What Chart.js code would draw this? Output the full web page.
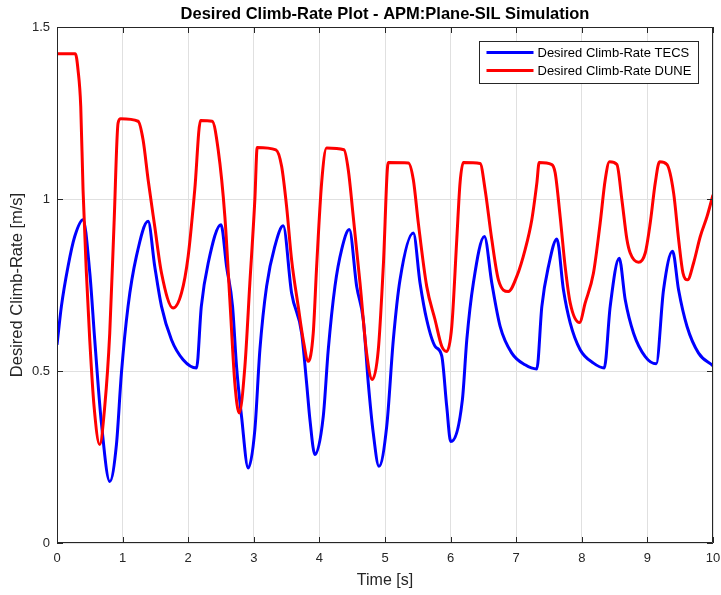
<!DOCTYPE html>
<html>
<head>
<meta charset="utf-8">
<script src="https://cdn.jsdelivr.net/npm/chart.js@4.4.1/dist/chart.umd.min.js"></script>
<style>
  html, body { margin: 0; padding: 0; background: #fff; }
  #wrap { width: 721px; height: 595px; }
</style>
</head>
<body>
<div id="wrap"><canvas id="climbChart" width="721" height="595"></canvas></div>
<script>
// values
const tecsTime = [0, 0.067, 0.168, 0.27, 0.397, 0.5, 0.575, 0.677, 0.804, 0.906,
    0.982, 1.083, 1.21, 1.389, 1.49, 1.593, 1.745, 1.923, 2.127, 2.2,
    2.305, 2.5, 2.585, 2.676, 2.737, 2.813, 2.915, 3.016, 3.093, 3.195,
    3.32, 3.448, 3.576, 3.729, 3.805, 3.856, 3.932, 4.059, 4.135, 4.237,
    4.339, 4.456, 4.568, 4.669, 4.745, 4.821, 4.908, 5.026, 5.127, 5.229,
    5.432, 5.534, 5.636, 5.763, 5.865, 5.941, 6.002, 6.18, 6.247, 6.347,
    6.515, 6.628, 6.755, 6.933, 7.136, 7.314, 7.391, 7.492, 7.62, 7.72,
    7.823, 7.975, 8.178, 8.342, 8.433, 8.57, 8.662, 8.789, 8.967, 9.135,
    9.246, 9.384, 9.475, 9.603, 9.78, 10];
const tecsRate = [0.576, 0.688, 0.804, 0.891, 0.94, 0.785, 0.591, 0.349, 0.179, 0.286,
    0.494, 0.688, 0.833, 0.935, 0.804, 0.688, 0.591, 0.533, 0.509, 0.688,
    0.814, 0.925, 0.804, 0.688, 0.513, 0.368, 0.218, 0.329, 0.562, 0.746,
    0.862, 0.922, 0.727, 0.61, 0.465, 0.358, 0.257, 0.368, 0.562, 0.746,
    0.853, 0.911, 0.746, 0.649, 0.465, 0.32, 0.223, 0.339, 0.591, 0.765,
    0.901, 0.756, 0.649, 0.572, 0.544, 0.397, 0.295, 0.417, 0.591, 0.756,
    0.891, 0.756, 0.63, 0.552, 0.518, 0.506, 0.688, 0.804, 0.884, 0.736,
    0.64, 0.562, 0.523, 0.509, 0.688, 0.828, 0.707, 0.61, 0.542, 0.521,
    0.736, 0.848, 0.736, 0.63, 0.552, 0.515];

const duneTime = [0, 0.28, 0.32, 0.362, 0.397, 0.448, 0.499, 0.565, 0.651, 0.728,
    0.804, 0.87, 0.931, 0.972, 1.236, 1.312, 1.389, 1.49, 1.593, 1.77,
    1.898, 1.999, 2.1, 2.188, 2.365, 2.457, 2.559, 2.635, 2.711, 2.777,
    2.864, 2.94, 3.016, 3.052, 3.337, 3.424, 3.5, 3.576, 3.677, 3.753,
    3.83, 3.906, 3.958, 4.034, 4.11, 4.374, 4.44, 4.516, 4.619, 4.72,
    4.806, 4.898, 4.974, 5.05, 5.356, 5.432, 5.508, 5.636, 5.763, 5.865,
    5.941, 6.018, 6.094, 6.144, 6.195, 6.45, 6.526, 6.628, 6.729, 6.881,
    7.009, 7.136, 7.238, 7.315, 7.35, 7.543, 7.594, 7.67, 7.746, 7.823,
    7.965, 8.052, 8.178, 8.28, 8.357, 8.422, 8.535, 8.611, 8.688, 8.738,
    8.865, 8.967, 9.043, 9.12, 9.185, 9.298, 9.4, 9.476, 9.542, 9.613,
    9.704, 9.806, 9.909, 10];
const duneRate = [1.422, 1.422, 1.376, 1.269, 1.027, 0.785, 0.591, 0.397, 0.286, 0.397,
    0.61, 0.93, 1.221, 1.233, 1.226, 1.172, 1.056, 0.92, 0.785, 0.683,
    0.727, 0.833, 1.027, 1.228, 1.226, 1.143, 0.949, 0.707, 0.465, 0.378,
    0.513, 0.756, 0.998, 1.15, 1.143, 1.095, 0.978, 0.824, 0.688, 0.591,
    0.528, 0.61, 0.804, 1.047, 1.148, 1.143, 1.085, 0.949, 0.756, 0.552,
    0.475, 0.562, 0.804, 1.106, 1.105, 1.056, 0.93, 0.746, 0.649, 0.572,
    0.557, 0.63, 0.882, 1.047, 1.106, 1.103, 1.027, 0.882, 0.765, 0.731,
    0.775, 0.853, 0.94, 1.047, 1.106, 1.1, 1.076, 0.949, 0.804, 0.698,
    0.641, 0.698, 0.785, 0.93, 1.056, 1.108, 1.1, 0.998, 0.882, 0.843,
    0.816, 0.843, 0.93, 1.047, 1.108, 1.1, 1.017, 0.882, 0.785, 0.765,
    0.814, 0.891, 0.949, 1.012];

const xTicks = [0, 1, 2, 3, 4, 5, 6, 7, 8, 9, 10];
const yTicks = [0, 0.5, 1, 1.5];
const seriesNames = ["Desired Climb-Rate TECS", "Desired Climb-Rate DUNE"];
const seriesColors = ["#0000ff", "#ff0000"];

const FONT = "'Liberation Sans', Arial, Helvetica, sans-serif";
const AXIS_COLOR = "#262626";

function toPoints(xs, ys) {
    return xs.map((x, i) => ({ x: x, y: ys[i] }));
}

// MATLAB-like box with inward ticks plus an inside legend
const matlabBox = {
    id: "matlabBox",
    afterDatasetsDraw(chart) {
        const ctx = chart.ctx;
        const a = chart.chartArea;
        const xs = chart.scales.x;
        const ys = chart.scales.y;
        const tl = 6;
        ctx.save();
        ctx.strokeStyle = AXIS_COLOR;
        ctx.lineWidth = 1;
        ctx.beginPath();
        ctx.rect(Math.round(a.left) + 0.5, Math.round(a.top) + 0.5,
            Math.round(a.right - a.left) - 1, Math.round(a.bottom - a.top) - 1);
        xTicks.forEach(v => {
            const px = Math.round(xs.getPixelForValue(v)) + 0.5;
            ctx.moveTo(px, a.bottom); ctx.lineTo(px, a.bottom - tl);
            ctx.moveTo(px, a.top); ctx.lineTo(px, a.top + tl);
        });
        yTicks.forEach(v => {
            const py = Math.round(ys.getPixelForValue(v)) + 0.5;
            ctx.moveTo(a.left, py); ctx.lineTo(a.left + tl, py);
            ctx.moveTo(a.right, py); ctx.lineTo(a.right - tl, py);
        });
        ctx.stroke();

        // legend box
        const bw = 219, bh = 42;
        const bx = Math.round(a.right - 15 - bw) + 0.5;
        const by = Math.round(a.top + 14) + 0.5;
        ctx.fillStyle = "#fff";
        ctx.fillRect(bx, by, bw, bh);
        ctx.strokeStyle = AXIS_COLOR;
        ctx.strokeRect(bx, by, bw, bh);
        ctx.font = "13px " + FONT;
        ctx.textBaseline = "middle";
        ctx.textAlign = "left";
        seriesNames.forEach((name, i) => {
            const ly = by + 11 + i * 18;
            ctx.strokeStyle = seriesColors[i];
            ctx.lineWidth = 3;
            ctx.beginPath();
            ctx.moveTo(bx + 7, ly);
            ctx.lineTo(bx + 54, ly);
            ctx.stroke();
            ctx.fillStyle = "#000";
            ctx.fillText(name, bx + 58, ly + 1);
        });
        ctx.restore();
    }
};

const ctx = document.getElementById("climbChart").getContext("2d");
new Chart(ctx, {
    type: "line",
    data: {
        datasets: [{
            label: seriesNames[0],
            data: toPoints(tecsTime, tecsRate),
            borderColor: seriesColors[0],
            borderWidth: 3,
            pointRadius: 0,
            cubicInterpolationMode: "monotone",
            order: 1
        }, {
            label: seriesNames[1],
            data: toPoints(duneTime, duneRate),
            borderColor: seriesColors[1],
            borderWidth: 3,
            pointRadius: 0,
            cubicInterpolationMode: "monotone",
            order: 0
        }]
    },
    options: {
        responsive: false,
        animation: false,
        layout: { padding: { left: 0, right: 8, top: 0, bottom: 0 } },
        plugins: {
            legend: { display: false },
            tooltip: { enabled: false },
            title: {
                display: true,
                fullSize: false,
                text: "Desired Climb-Rate Plot - APM:Plane-SIL Simulation",
                color: "#000",
                font: { family: FONT, size: 16.5, weight: "bold" },
                padding: { top: 4.1, bottom: 3.1 }
            }
        },
        scales: {
            x: {
                type: "linear",
                min: 0,
                max: 10,
                afterFit: s => { s.height = 52; s.paddingLeft = 0; s.paddingRight = 0; },
                afterBuildTicks: s => { s.ticks = xTicks.map(v => ({ value: v })); },
                grid: { color: "#e0e0e0", drawTicks: false },
                border: { display: false },
                ticks: {
                    color: AXIS_COLOR,
                    padding: 8,
                    maxRotation: 0,
                    font: { family: FONT, size: 13 }
                },
                title: {
                    display: true,
                    text: "Time [s]",
                    color: AXIS_COLOR,
                    font: { family: FONT, size: 16 },
                    padding: { top: 0, bottom: 4.4 }
                }
            },
            y: {
                type: "linear",
                min: 0,
                max: 1.5,
                afterFit: s => { s.width = 57; },
                afterBuildTicks: s => { s.ticks = yTicks.map(v => ({ value: v })); },
                grid: { color: "#e0e0e0", drawTicks: false },
                border: { display: false },
                ticks: {
                    color: AXIS_COLOR,
                    padding: 7,
                    font: { family: FONT, size: 13 },
                    callback: v => String(v)
                },
                title: {
                    display: true,
                    text: "Desired Climb-Rate [m/s]",
                    color: AXIS_COLOR,
                    font: { family: FONT, size: 16.5 },
                    padding: { top: 7.6, bottom: 0 }
                }
            }
        }
    },
    plugins: [matlabBox]
});
</script>
</body>
</html>
